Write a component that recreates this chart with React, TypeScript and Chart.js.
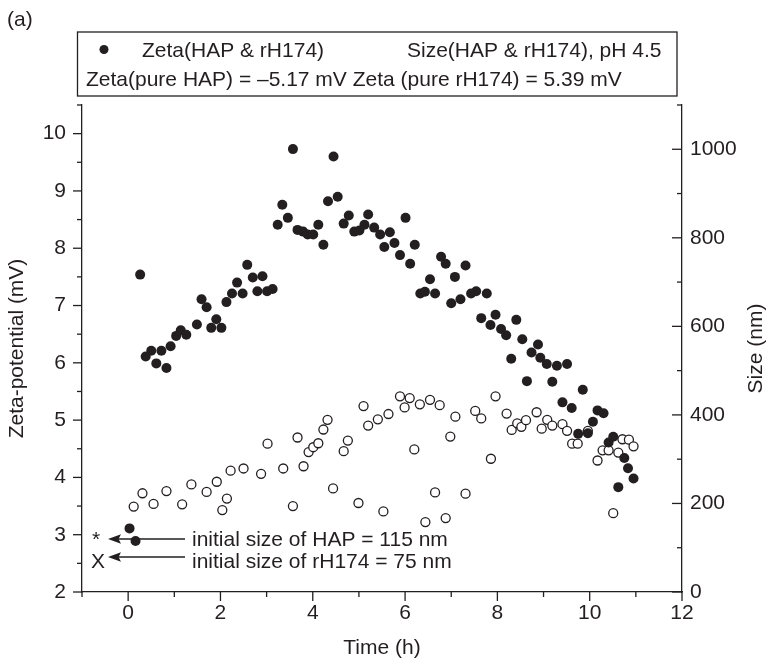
import React, { useEffect, useRef } from 'react';
import { Chart, registerables } from 'chart.js';

Chart.register(...registerables);

// ---- data ----
const zetaTime = [
  0.03, 0.16, 0.26, 0.38, 0.5, 0.61, 0.72, 0.83, 0.92, 1.04, 1.14, 1.26, 1.49, 1.59, 1.7, 1.8, 1.91, 2.02,
  2.13, 2.25, 2.36, 2.48, 2.58, 2.7, 2.8, 2.91, 3.01, 3.13, 3.24, 3.34, 3.46, 3.57, 3.67, 3.79, 3.89, 4.01,
  4.12, 4.23, 4.33, 4.45, 4.54, 4.67, 4.78, 4.9, 5.01, 5.12, 5.2, 5.33, 5.46, 5.55, 5.67, 5.77, 5.89, 6.01,
  6.11, 6.21, 6.33, 6.43, 6.54, 6.65, 6.78, 6.88, 7.0, 7.08, 7.2, 7.31, 7.43, 7.54, 7.65, 7.77, 7.85, 7.96,
  8.08, 8.19, 8.3, 8.41, 8.54, 8.64, 8.74, 8.88, 8.93, 9.07, 9.19, 9.29, 9.41, 9.51, 9.61, 9.75, 9.85, 9.96,
  10.07, 10.17, 10.3, 10.41, 10.51, 10.62, 10.75, 10.83, 10.95,
];
const zetaValue = [
  3.11, 2.89, 7.54, 6.11, 6.21, 5.99, 6.21, 5.91, 6.29, 6.47, 6.57, 6.49, 6.67, 7.11, 6.97, 6.61, 6.76, 6.61,
  7.06, 7.21, 7.4, 7.21, 7.71, 7.49, 7.25, 7.51, 7.25, 7.29, 8.41, 8.76, 8.53, 9.73, 8.32, 8.29, 8.24, 8.24,
  8.41, 8.06, 8.82, 9.6, 8.9, 8.43, 8.57, 8.29, 8.31, 8.41, 8.59, 8.36, 8.24, 8.02, 8.28, 8.09, 7.88, 8.53,
  7.73, 8.06, 7.21, 7.24, 7.46, 7.21, 7.85, 7.73, 7.04, 7.5, 7.11, 7.7, 7.21, 7.25, 6.78, 7.21, 6.66, 6.84,
  6.59, 6.48, 6.07, 6.75, 6.41, 5.68, 6.18, 6.32, 6.09, 5.98, 5.67, 5.95, 5.31, 5.98, 5.21, 4.76, 5.53, 4.77,
  4.97, 5.17, 5.12, 4.61, 4.71, 3.83, 4.34, 4.16, 3.98,
];
const sizeTime = [
  0.12, 0.31, 0.55, 0.83, 1.17, 1.37, 1.7, 1.92, 2.04, 2.14, 2.22, 2.5, 2.88, 3.02, 3.36, 3.57, 3.67, 3.8,
  3.91, 4.01, 4.12, 4.23, 4.32, 4.44, 4.67, 4.76, 4.99, 5.1, 5.2, 5.41, 5.53, 5.64, 5.89, 5.99, 6.1, 6.2,
  6.32, 6.44, 6.54, 6.65, 6.75, 6.88, 6.98, 7.09, 7.31, 7.52, 7.65, 7.86, 7.96, 8.2, 8.31, 8.43, 8.52, 8.62,
  8.85, 8.96, 9.08, 9.19, 9.41, 9.51, 9.62, 9.74, 9.96, 10.17, 10.28, 10.41, 10.51, 10.62, 10.71, 10.85, 10.95,
];
const sizeValue = [
  193, 223, 199, 228, 198, 243, 226, 249, 185, 211, 274, 279, 267, 335, 279, 194, 349, 284,
  316, 327, 336, 367, 389, 234, 318, 342, 201, 420, 376, 390, 182, 402, 442, 417, 438, 322,
  424, 158, 434, 225, 422, 167, 351, 396, 222, 409, 392, 301, 442, 403, 366, 381, 373, 388,
  406, 369, 389, 376, 379, 364, 335, 335, 364, 297, 320, 320, 178, 315, 345, 344, 329,
];

const xTickLabels = [0, 2, 4, 6, 8, 10, 12];
const zetaTickLabels = [2, 3, 4, 5, 6, 7, 8, 9, 10];
const sizeTickLabels = [0, 200, 400, 600, 800, 1000];

const panelLabel = '(a)';
const legendZeta = 'Zeta(HAP & rH174)';
const legendSize = 'Size(HAP & rH174), pH 4.5';
const legendPure = 'Zeta(pure HAP) = \u20135.17 mV Zeta (pure rH174) = 5.39 mV';
const noteHAP = 'initial size of HAP = 115 nm';
const noteRH = 'initial size of rH174 = 75 nm';
const xTitle = 'Time (h)';
const yTitle = 'Zeta-potential (mV)';
const y1Title = 'Size (nm)';

const INK = '#231f20';
const FONT = '"Liberation Sans", Arial, Helvetica, sans-serif';
const FS = 21;

export default function App() {
  const ref = useRef<HTMLCanvasElement>(null);

  useEffect(() => {
    const canvas = ref.current!;
    const decor = {
      id: 'decor',
      afterDraw(chart: any) {
        const { ctx, chartArea } = chart;
        const sx = chart.scales.x;
        const sy = chart.scales.y;
        const sy1 = chart.scales.y1;
        ctx.save();
        ctx.strokeStyle = INK;
        ctx.fillStyle = INK;
        ctx.lineWidth = 1.3;
        const line = (x1: number, y1: number, x2: number, y2: number) => {
          ctx.beginPath();
          ctx.moveTo(x1, y1);
          ctx.lineTo(x2, y2);
          ctx.stroke();
        };
        // tick marks
        sy.ticks.forEach((t: any) => {
          const p = sy.getPixelForValue(t.value);
          const L = t.label ? 9 : 5;
          line(chartArea.left, p, chartArea.left - L, p);
        });
        sy1.ticks.forEach((t: any) => {
          const p = sy1.getPixelForValue(t.value);
          const L = t.label ? 10 : 5;
          line(chartArea.right, p, chartArea.right - L, p);
        });
        sx.ticks.forEach((t: any) => {
          const p = sx.getPixelForValue(t.value);
          const L = t.label ? 9 : 5;
          line(p, chartArea.bottom, p, chartArea.bottom + L);
        });

        ctx.font = `${FS}px ${FONT}`;
        ctx.textBaseline = 'alphabetic';
        ctx.textAlign = 'left';
        // panel label
        ctx.fillText(panelLabel, 7, 26);
        // legend box
        ctx.strokeRect(77.5, 32, 599.5, 64);
        ctx.beginPath();
        ctx.arc(104, 49.5, 4.5, 0, Math.PI * 2);
        ctx.fill();
        ctx.fillText(legendZeta, 142, 57);
        ctx.fillText(legendSize, 407, 57);
        ctx.fillText(legendPure, 86, 86);

        // annotations
        const arrow = (y: number) => {
          const tip = 108, end = 185;
          line(tip + 8, y, end, y);
          ctx.beginPath();
          ctx.moveTo(tip, y);
          ctx.lineTo(tip + 13, y - 4.8);
          ctx.lineTo(tip + 10.5, y);
          ctx.lineTo(tip + 13, y + 4.8);
          ctx.closePath();
          ctx.fill();
        };
        ctx.fillText('*', 92, 546);
        arrow(539);
        ctx.fillText(noteHAP, 192, 546);
        ctx.fillText('X', 91, 568);
        arrow(557);
        ctx.fillText(noteRH, 192, 568);

        // right axis title (reads bottom to top)
        ctx.save();
        ctx.translate(756, (chartArea.top + chartArea.bottom) / 2);
        ctx.rotate(-Math.PI / 2);
        ctx.textAlign = 'center';
        ctx.textBaseline = 'middle';
        ctx.fillText(y1Title, 0, 0);
        ctx.restore();
        ctx.restore();
      },
    };

    const tickFont = { size: FS, family: FONT };
    const chart = new Chart(canvas, {
      type: 'scatter',
      data: {
        datasets: [
          {
            label: legendZeta,
            data: zetaTime.map((t, i) => ({ x: t, y: zetaValue[i] })),
            yAxisID: 'y',
            pointRadius: 5,
            pointHoverRadius: 5,
            backgroundColor: INK,
            borderColor: INK,
            borderWidth: 0,
          },
          {
            label: legendSize,
            data: sizeTime.map((t, i) => ({ x: t, y: sizeValue[i] })),
            yAxisID: 'y1',
            pointRadius: 4.5,
            pointHoverRadius: 4.5,
            backgroundColor: '#ffffff',
            borderColor: INK,
            borderWidth: 1.3,
          },
        ],
      },
      options: {
        responsive: false,
        animation: false,
        devicePixelRatio: 1,
        layout: { padding: { top: 105, left: 0, right: 0, bottom: 0 } },
        plugins: { legend: { display: false }, tooltip: { enabled: false } },
        scales: {
          x: {
            type: 'linear',
            position: 'bottom',
            min: -1,
            max: 12,
            ticks: {
              stepSize: 1,
              autoSkip: false,
              maxRotation: 0,
              padding: 9,
              color: INK,
              font: tickFont,
              callback: (v: any) => (xTickLabels.includes(Number(v)) ? String(v) : ''),
            },
            grid: { display: false, drawTicks: false },
            border: { display: true, color: INK, width: 1.3 },
            title: { display: true, text: xTitle, color: INK, font: tickFont, padding: { top: 0, bottom: 2 } },
            afterFit: (s: any) => {
              s.height = 71;
            },
          },
          y: {
            type: 'linear',
            position: 'left',
            min: 2,
            max: 10.5,
            ticks: {
              stepSize: 0.5,
              autoSkip: false,
              padding: 16,
              color: INK,
              font: tickFont,
              callback: (v: any) => (zetaTickLabels.includes(Number(v)) ? String(v) : ''),
            },
            grid: { display: false, drawTicks: false },
            border: { display: true, color: INK, width: 1.3 },
            title: { display: true, text: yTitle, color: INK, font: tickFont, padding: { top: 5, bottom: 0 } },
            afterFit: (s: any) => {
              s.width = 82;
            },
          },
          y1: {
            type: 'linear',
            position: 'right',
            min: 0,
            max: 1100,
            ticks: {
              stepSize: 100,
              autoSkip: false,
              padding: 8,
              color: INK,
              font: tickFont,
              callback: (v: any) => (sizeTickLabels.includes(Number(v)) ? String(v) : ''),
            },
            grid: { display: false, drawTicks: false },
            border: { display: true, color: INK, width: 1.3 },
            title: { display: false },
            afterFit: (s: any) => {
              s.width = 84;
            },
          },
        },
      },
      plugins: [decor],
    } as any);
    return () => chart.destroy();
  }, []);

  return (
    <div style={{ position: 'fixed', left: 0, top: 0, width: 766, height: 663, background: '#ffffff' }}>
      <canvas ref={ref} width={766} height={663} style={{ display: 'block', width: 766, height: 663 }} />
    </div>
  );
}
